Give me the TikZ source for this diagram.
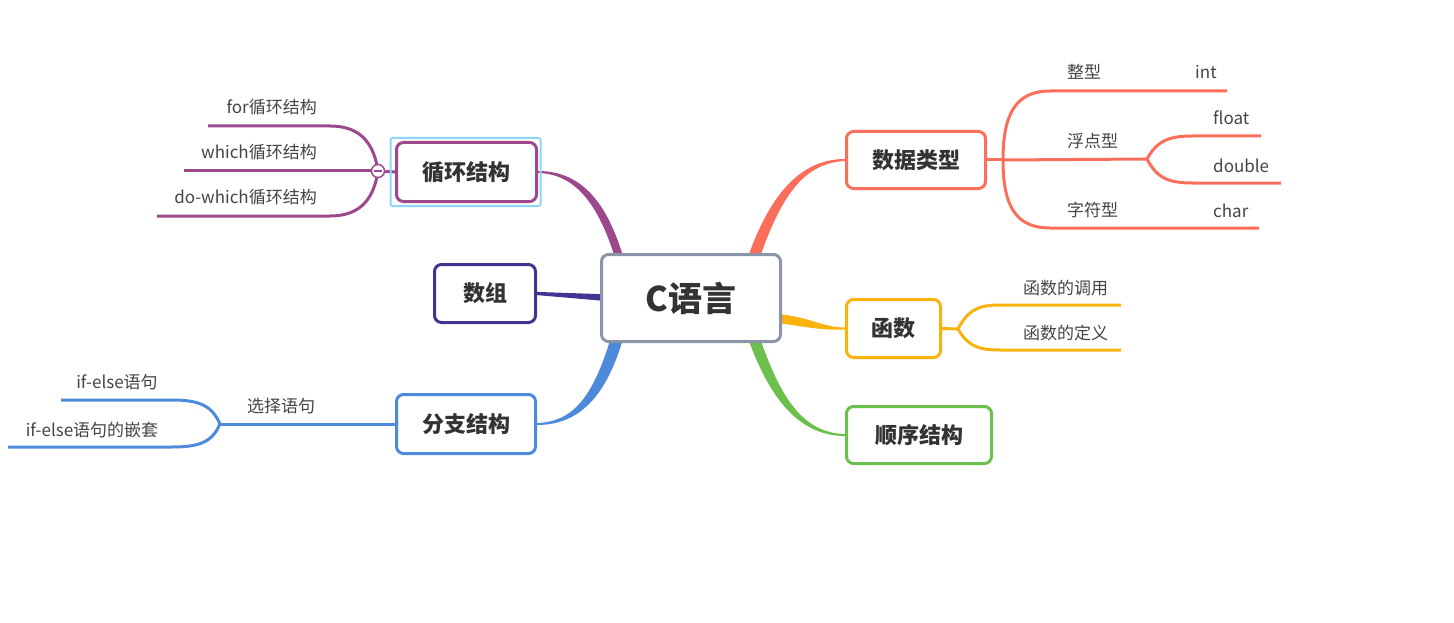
\documentclass[tikz,border=0pt]{standalone}
\usepackage{fontspec}
\setmainfont{Noto Sans CJK SC}
\usetikzlibrary{calc}
\pgfdeclarelayer{bg}
\pgfsetlayers{bg,main}
\definecolor{cgray}{RGB}{138,149,168}
\definecolor{cred}{RGB}{250,110,90}
\definecolor{corange}{RGB}{250,178,12}
\definecolor{cgreen}{RGB}{108,192,77}
\definecolor{cpurple}{RGB}{155,72,140}
\definecolor{cindigo}{RGB}{68,52,145}
\definecolor{cblue}{RGB}{78,138,219}
\definecolor{csel}{RGB}{142,214,248}
\definecolor{txt}{RGB}{51,51,51}
\definecolor{ltxt}{RGB}{68,68,68}
\begin{document}
\begin{tikzpicture}[x=1pt,y=-1pt,
  mainbox/.style={draw, line width=3pt, rounded corners=7pt, fill=white, text=txt, inner sep=0pt, font=\fontsize{22}{26}\selectfont\bfseries},
  leaftext/.style={text=ltxt, inner sep=0pt, font=\fontsize{17}{20}\selectfont},
  subline/.style={line width=3pt},
]
\useasboundingbox (0,0) rectangle (1454,623);

% main nodes
\node[mainbox, draw=cgray, minimum width=179pt, minimum height=87pt, font=\fontsize{34}{40}\selectfont\bfseries] (c) at (691,298) {C语言};
\node[mainbox, draw=cred, minimum width=139pt, minimum height=57pt] (dt) at (916,160) {数据类型};
\node[mainbox, draw=corange, minimum width=94pt, minimum height=58pt] (fn) at (893.5,328.5) {函数};
\node[mainbox, draw=cgreen, minimum width=145pt, minimum height=57pt] (sx) at (919,435) {顺序结构};
\node[mainbox, draw=cpurple, minimum width=140pt, minimum height=59pt] (lp) at (466.5,172) {循环结构};
\node[mainbox, draw=cindigo, minimum width=101pt, minimum height=58pt] (sz) at (485,293.5) {数组};
\node[mainbox, draw=cblue, minimum width=139pt, minimum height=59pt] (fz) at (466,424) {分支结构};
\node[draw=csel, line width=2pt, rounded corners=2pt, minimum width=150pt, minimum height=68pt, inner sep=0pt] (sel) at (465.5,172) {};

% leaf texts
\node[leaftext, anchor=west] (zx) at (1067,72) {整型};
\node[leaftext, anchor=west] (ti) at (1195,72) {int};
\node[leaftext, anchor=west] (fd) at (1067,141) {浮点型};
\node[leaftext, anchor=west] (tf) at (1213,118) {float};
\node[leaftext, anchor=west] (td) at (1213,166) {double};
\node[leaftext, anchor=west] (zf) at (1067,210) {字符型};
\node[leaftext, anchor=west] (tc) at (1213,211) {char};
\node[leaftext, anchor=west] (dy) at (1023,288) {函数的调用};
\node[leaftext, anchor=west] (dd) at (1023,333) {函数的定义};
\node[leaftext, anchor=east] (lf) at (317,107) {for循环结构};
\node[leaftext, anchor=east] (lw) at (317,152) {which循环结构};
\node[leaftext, anchor=east] (ld) at (317,197) {do-which循环结构};
\node[leaftext] (xz) at (281,406) {选择语句};
\node[leaftext] (ie) at (117,382) {if-else语句};
\node[leaftext] (iq) at (92,430) {if-else语句的嵌套};

% named points of the sub-branches
\coordinate (dtf) at (1003,160);
\coordinate (fdf) at (1147,159);
\coordinate (fnf) at (958,329);
\coordinate (xzf) at (220,424);
\coordinate (ti-end) at (1227,91);
\coordinate (tf-end) at (1261,136);
\coordinate (td-end) at (1281,183);
\coordinate (tc-end) at (1259,228);
\coordinate (dy-end) at (1121,305);
\coordinate (dd-end) at (1121,350);
\coordinate (lf-end) at (208,126);
\coordinate (lw-end) at (184,171);
\coordinate (ld-end) at (157,216);
\coordinate (ie-end) at (61,400);
\coordinate (iq-end) at (8,447);

% collapse marker
\node[circle, draw=cpurple, fill=white, line width=1.5pt, minimum size=13pt, inner sep=0pt] (lpc) at (378,171) {};
\draw[cpurple, line width=1.3pt] ([xshift=-4pt]lpc.center) -- ([xshift=4pt]lpc.center);

\begin{pgfonlayer}{bg}
% tapered main branches
\fill[cred] ([yshift=1pt]dt.west) .. controls (797,159) and (765,200) .. ($(c)+(51,-23)$)
  -- ($(c)+(63,-23)$) .. controls (777,203) and (800,163) .. ([yshift=-1pt]dt.west) -- cycle;
\fill[cgreen] ([yshift=-1pt]sx.west) .. controls (797,436) and (765,395) .. ($(c)+(51,22)$)
  -- ($(c)+(63,22)$) .. controls (777,393) and (800,433) .. ([yshift=1pt]sx.west) -- cycle;
\fill[cpurple] ([yshift=1pt]lp.east) .. controls (585,171) and (612,208) .. ($(c)+(-63,-23)$)
  -- ($(c)+(-71,-23)$) .. controls (603,212) and (580,174) .. ([yshift=-1pt]lp.east) -- cycle;
\fill[cblue] ([yshift=-1pt]fz.east) .. controls (585,425) and (612,388) .. ($(c)+(-63,22)$)
  -- ($(c)+(-75,22)$) .. controls (598,385) and (580,422) .. ([yshift=1pt]fz.east) -- cycle;
\fill[cindigo] ([yshift=1.6pt]sz.east) -- ($(c)+(-80,-3.5)$) -- ($(c)+(-80,3.5)$) -- ([yshift=-1.6pt]sz.east) -- cycle;
\fill[corange] ($(c)+(80,15)$) .. controls (812,317) and (822,327.5) .. ([yshift=1pt]fn.west)
  -- ([yshift=-1pt]fn.west) .. controls (820,330.5) and (808,327) .. ($(c)+(80,24)$) -- cycle;

% data types
\draw[subline, cred] (dt.east) -- (dtf);
\draw[subline, cred] (dtf) .. controls (1003,115) and (1015,91) .. (1050,91) -- (ti-end);
\draw[subline, cred] (dtf) -- (fdf);
\draw[subline, cred] (dtf) .. controls (1003,205) and (1015,228) .. (1050,228) -- (tc-end);
\draw[subline, cred] (fdf) .. controls (1157,141) and (1168,136) .. (1193,136) -- (tf-end);
\draw[subline, cred] (fdf) .. controls (1157,178) and (1168,183) .. (1193,183) -- (td-end);
% functions
\draw[subline, corange] (fn.east) -- (fnf);
\draw[subline, corange] (fnf) .. controls (968,310) and (978,305) .. (1000,305) -- (dy-end);
\draw[subline, corange] (fnf) .. controls (968,346) and (978,350) .. (1000,350) -- (dd-end);
% loops
\draw[subline, cpurple] (lp.west) -- (lpc);
\draw[subline, cpurple] (lpc.center) .. controls (374,145) and (362,126) .. (330,126) -- (lf-end);
\draw[subline, cpurple] (lpc.center) -- (lw-end);
\draw[subline, cpurple] (lpc.center) .. controls (374,197) and (362,216) .. (330,216) -- (ld-end);
% branches
\draw[subline, cblue] (fz.west) -- (xzf);
\draw[subline, cblue] (xzf) .. controls (212,406) and (200,400) .. (172,400) -- (ie-end);
\draw[subline, cblue] (xzf) .. controls (212,442) and (200,447) .. (172,447) -- (iq-end);
\end{pgfonlayer}
\end{tikzpicture}
\end{document}
